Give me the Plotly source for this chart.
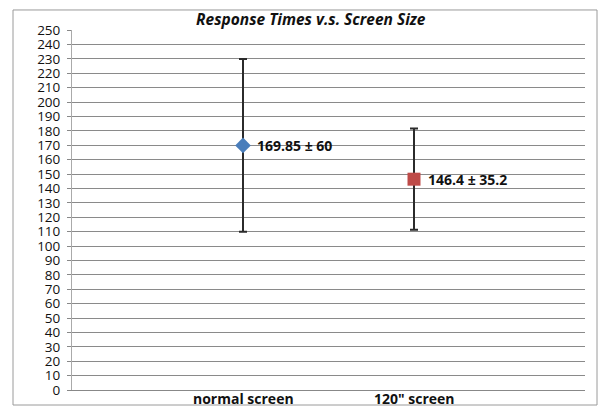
import plotly.graph_objects as go

categories = ["normal screen", "120\" screen"]
means = [169.85, 146.4]
errors = [60, 35.2]
labels = ["169.85 \u00b1 60", "146.4 \u00b1 35.2"]
symbols = ["diamond", "square"]
colors = ["#4A7EBB", "#BE4B48"]
sizes = [12, 13]
y_ticks = list(range(0, 251, 10))

xpos = [1, 2]
FONT = "Open Sans, Lato, sans-serif"

fig = go.Figure()
for i in range(len(categories)):
    fig.add_trace(go.Scatter(
        x=[xpos[i]], y=[means[i]], mode="markers",
        marker=dict(symbol=symbols[i], size=sizes[i], color=colors[i],
                    line=dict(width=0)),
        error_y=dict(type="data", array=[errors[i]], visible=True,
                     color="#2b2b2b", thickness=2, width=4),
        showlegend=False,
    ))
    fig.add_annotation(x=xpos[i], y=means[i], text="<b>" + labels[i] + "</b>",
                       showarrow=False, xanchor="left", xshift=12,
                       font=dict(family=FONT, size=14, color="#111"))
    fig.add_annotation(x=xpos[i], y=0, yref="paper", text="<b>" + categories[i] + "</b>",
                       showarrow=False, xanchor="center", yanchor="middle", yshift=-8,
                       font=dict(family=FONT, size=14, color="#111"))

fig.update_layout(
    width=600, height=407,
    margin=dict(l=72, r=15, t=30, b=17),
    paper_bgcolor="white", plot_bgcolor="white",
    title=dict(text="<b><i>Response Times v.s. Screen Size</i></b>", x=0.518, xanchor="center",
               y=0.951, yanchor="middle",
               font=dict(family=FONT, size=15.5, color="#111")),
    font=dict(family=FONT, size=13, color="#111"),
    xaxis=dict(range=[0, 3], tickvals=xpos, showticklabels=False,
               showgrid=False, zeroline=False, showline=True, linecolor="#888",
               linewidth=1, ticks="", automargin=False),
    yaxis=dict(range=[0, 250], tickvals=y_ticks, showgrid=True, gridcolor="#8a8a8a",
               gridwidth=1, zeroline=False, showline=True, linecolor="#aaa",
               ticks="outside", ticklen=4, tickcolor="#888", tickfont=dict(size=13.5),
               ticklabelstandoff=4, automargin=False),
    shapes=[dict(type="rect", xref="paper", yref="paper",
                 x0=-0.115, x1=1.0234, y0=-0.0417, y1=1.0556,
                 line=dict(color="#9a9a9a", width=1), fillcolor="rgba(0,0,0,0)")],
)

fig.write_html("out.html", config={"displayModeBar": False},
               post_script="document.body.style.margin='0px';document.body.style.overflow='hidden';")
